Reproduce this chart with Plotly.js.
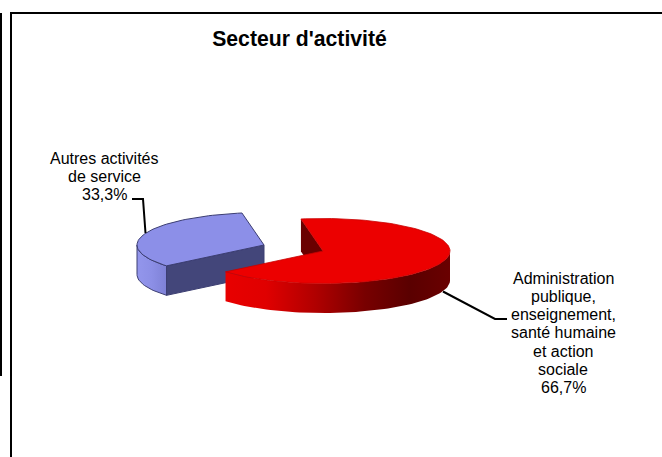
<!DOCTYPE html>
<html><head><meta charset="utf-8">
<script src="https://cdn.plot.ly/plotly-3.0.1.min.js"></script>
<style>html,body{margin:0;padding:0;background:#fff;overflow:hidden}#c{width:662px;height:457px}</style>
</head><body><div id="c"></div>
<script>
// Data
const categories = ["Administration publique, enseignement, santé humaine et action sociale", "Autres activités de service"];
const values = [66.7, 33.3];
const labelLines = [["Administration","publique,","enseignement,","santé humaine","et action","sociale"],["Autres activités","de service"]];
const chartTitle = "Secteur d'activité";

// Projection of the tilted pie, in axis units (axes map 1:1 to the page)
const RX = 127, RY = 32.5, DEPTH = 29.5;
const START_DEG = 100;
const redCentre = [323, 251], blueCentre = [264, 245];
const LINE_H = 18.3;

const total = values.reduce((a,b)=>a+b,0);
const span = values.map(v=>v/total*360);
const rad = d=>d*Math.PI/180;
const pt = (c,t,dy=0)=>[c[0]+RX*Math.cos(rad(t)), c[1]-RY*Math.sin(rad(t))+dy];
function arc(c,t0,t1,dy=0){const n=Math.ceil(Math.abs(t1-t0)/2),o=[];for(let i=0;i<=n;i++)o.push(pt(c,t0+(t1-t0)*i/n,dy));return o;}
function poly(points,fill,line,extra){
  const p=points.concat([points[0]]);
  return Object.assign({type:'scatter',mode:'lines',x:p.map(q=>q[0]),y:p.map(q=>q[1]),fill:'toself',fillcolor:fill,
    line:line||{width:0,color:'rgba(0,0,0,0)'},hoverinfo:'skip',showlegend:false},extra||{});
}
const a0=START_DEG, a1=START_DEG-span[0], a2=a1-span[1];   // clockwise
const traces=[];
const blueEdge={width:1,color:'#3c3e72'};

// Blue slice (exploded): visible wall runs on the left/front of the ellipse, from 180deg to its end
const bWall=arc(blueCentre,180,a1+360).concat(arc(blueCentre,a1+360,180,DEPTH));
traces.push(poly(bWall,'#8c8fe8',blueEdge,{fillgradient:{type:'horizontal',colorscale:[[0,'#9396ec'],[0.5,'#8c8fe6'],[1,'#7e81d6']]}}));
const bCutEnd=pt(blueCentre,a1+360);
traces.push(poly([blueCentre,bCutEnd,[bCutEnd[0],bCutEnd[1]+DEPTH],[blueCentre[0],blueCentre[1]+DEPTH]],'#43467a',blueEdge));
traces.push(poly([blueCentre].concat(arc(blueCentre,a1+360,a0)),'#8c8fe8',blueEdge));

// Red slice: cut face, wall, top
const rStart=pt(redCentre,a0);
traces.push(poly([rStart,redCentre,[redCentre[0],redCentre[1]+DEPTH+3],[rStart[0],rStart[1]+DEPTH+3]],'#6a0000'));
const rWall=arc(redCentre,0,a1).concat(arc(redCentre,a1,0,DEPTH));
traces.push(poly(rWall,'#e80000',{width:0,color:'rgba(0,0,0,0)'},{fillgradient:{type:'horizontal',colorscale:[[0,'#e80000'],[0.18,'#e00000'],[0.4,'#b00000'],[0.62,'#780000'],[0.82,'#5a0000'],[1,'#6a0000']]}}));
traces.push(poly([redCentre].concat(arc(redCentre,a0,a1)),'#ec0000',{width:0.8,color:'#c80000'}));

// Leader lines
const leader={width:2,color:'#000'};
const lead1={type:'path',path:'M443,291.5 L495,319 L507,319',line:leader,xref:'x',yref:'y'};
const lead2={type:'path',path:'M132,199 L143,199 L145.5,233',line:leader,xref:'x',yref:'y'};

// Labels
const pct=v=>v.toFixed(1).replace('.',',')+'%';
const annotations=[];
function addLabel(lines,cx,y0){lines.forEach((s,i)=>annotations.push({x:cx,y:y0+i*LINE_H,text:s,showarrow:false,xref:'x',yref:'y',
  xanchor:'center',yanchor:'middle',font:{family:'"Liberation Sans",Arial,sans-serif',size:16,color:'#000'}}));}
addLabel(labelLines[0].concat([pct(values[0])]),563,278);
addLabel(labelLines[1].concat([pct(values[1])]),104,158);

const frame=[
  {type:'rect',x0:10,x1:662,y0:12,y1:14,fillcolor:'#000',line:{width:0},xref:'x',yref:'y'},
  {type:'rect',x0:10,x1:12,y0:12,y1:457,fillcolor:'#000',line:{width:0},xref:'x',yref:'y'},
  {type:'rect',x0:0,x1:2,y0:13,y1:376,fillcolor:'#000',line:{width:0},xref:'x',yref:'y'}
];

const hidden={visible:false,fixedrange:true};
Plotly.newPlot('c',traces,{
  width:662,height:457,margin:{l:0,r:0,t:0,b:0},paper_bgcolor:'#fff',plot_bgcolor:'#fff',showlegend:false,
  xaxis:Object.assign({range:[0,662]},hidden),yaxis:Object.assign({range:[457,0]},hidden),
  title:{text:'<b>'+chartTitle+'</b>',x:299.5/662,y:1-38.5/457,xanchor:'center',yanchor:'middle',xref:'paper',yref:'paper',
    font:{family:'"Liberation Sans",Arial,sans-serif',size:21.2,color:'#000'}},
  shapes:frame.concat([lead1,lead2]),annotations:annotations
},{displayModeBar:false,staticPlot:true});
</script></body></html>
